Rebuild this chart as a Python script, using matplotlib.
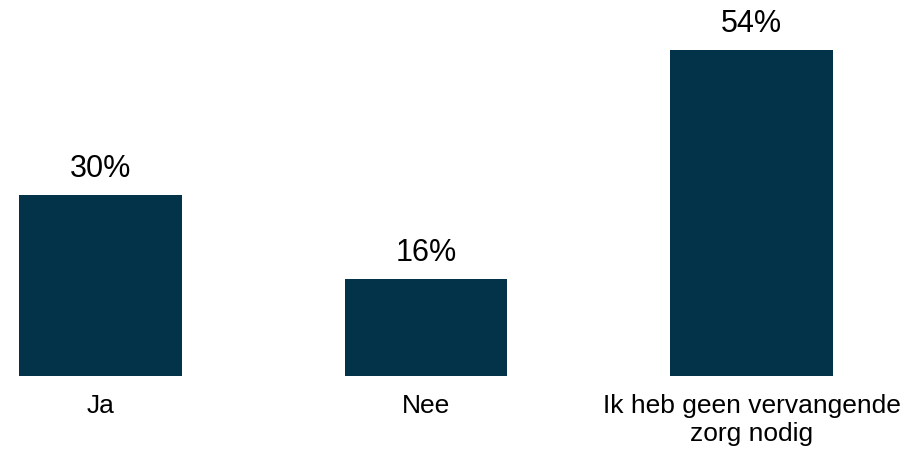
import matplotlib.pyplot as plt

categories = ["Ja", "Nee", "Ik heb geen vervangende\nzorg nodig"]
values = [30, 16, 54]
value_labels = ["30%", "16%", "54%"]

plt.rcParams["font.family"] = ["Liberation Sans", "DejaVu Sans"]

fig = plt.figure(figsize=(9.2, 4.53), dpi=100)
ax = fig.add_axes([19 / 920, 77 / 453, 814 / 920, 326 / 453])

x = range(len(categories))
bars = ax.bar(x, values, width=0.5, color="#023349")

for b, lab in zip(bars, value_labels):
    ax.annotate(lab, (b.get_x() + b.get_width() / 2, b.get_height()),
                xytext=(0, 8), textcoords="offset points",
                ha="center", va="bottom", fontsize=22)

ax.set_xlim(-0.25, 2.25)
ax.set_ylim(0, 54)
ax.set_xticks(list(x))
ax.set_xticklabels(categories, fontsize=19)
ax.tick_params(axis="x", length=0, pad=13)
ax.set_yticks([])
for s in ax.spines.values():
    s.set_visible(False)

fig.savefig("out.png", dpi=100)
